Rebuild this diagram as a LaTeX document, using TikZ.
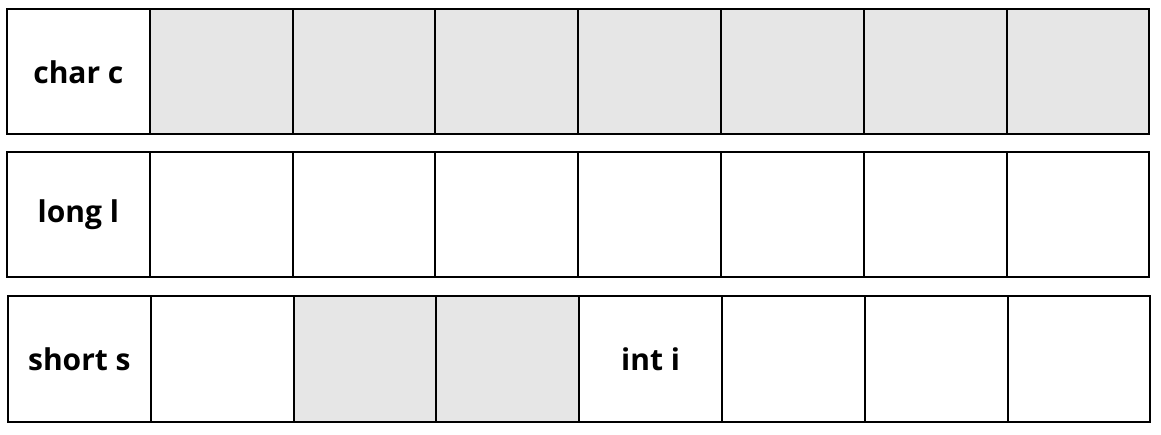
\documentclass[tikz,border=0pt]{standalone}
\usepackage{fontspec}
\setmainfont{Open Sans}[BoldFont={Open Sans Bold}]
\definecolor{cellgrey}{HTML}{E6E6E6}
\tikzset{
  cell/.style={draw=black, line width=2pt, minimum width=142.8pt, minimum height=125pt, inner sep=0pt, outer sep=0pt, anchor=north west, font=\bfseries\fontsize{30}{34}\selectfont},
  greycell/.style={cell, fill=cellgrey},
  whitecell/.style={cell, fill=white}
}
\begin{document}
\begin{tikzpicture}[x=1pt,y=-1pt]
\useasboundingbox (0,0) rectangle (1161,435);
% row 1
\node[whitecell] (r1c1) at (7,9.5) {char c};
\foreach \i in {2,...,8} {
  \node[greycell] (r1c\i) at ({7+(\i-1)*142.8},9.5) {};
}
% row 2
\node[whitecell] (r2c1) at (7,152.5) {long l};
\foreach \i in {2,...,8} {
  \node[whitecell] (r2c\i) at ({7+(\i-1)*142.8},152.5) {};
}
% row 3
\node[whitecell] (r3c1) at (8,296.5) {short s};
\node[whitecell] (r3c2) at ({8+1*142.8},296.5) {};
\node[greycell] (r3c3) at ({8+2*142.8},296.5) {};
\node[greycell] (r3c4) at ({8+3*142.8},296.5) {};
\node[whitecell] (r3c5) at ({8+4*142.8},296.5) {int i};
\node[whitecell] (r3c6) at ({8+5*142.8},296.5) {};
\node[whitecell] (r3c7) at ({8+6*142.8},296.5) {};
\node[whitecell] (r3c8) at ({8+7*142.8},296.5) {};
\end{tikzpicture}
\end{document}
